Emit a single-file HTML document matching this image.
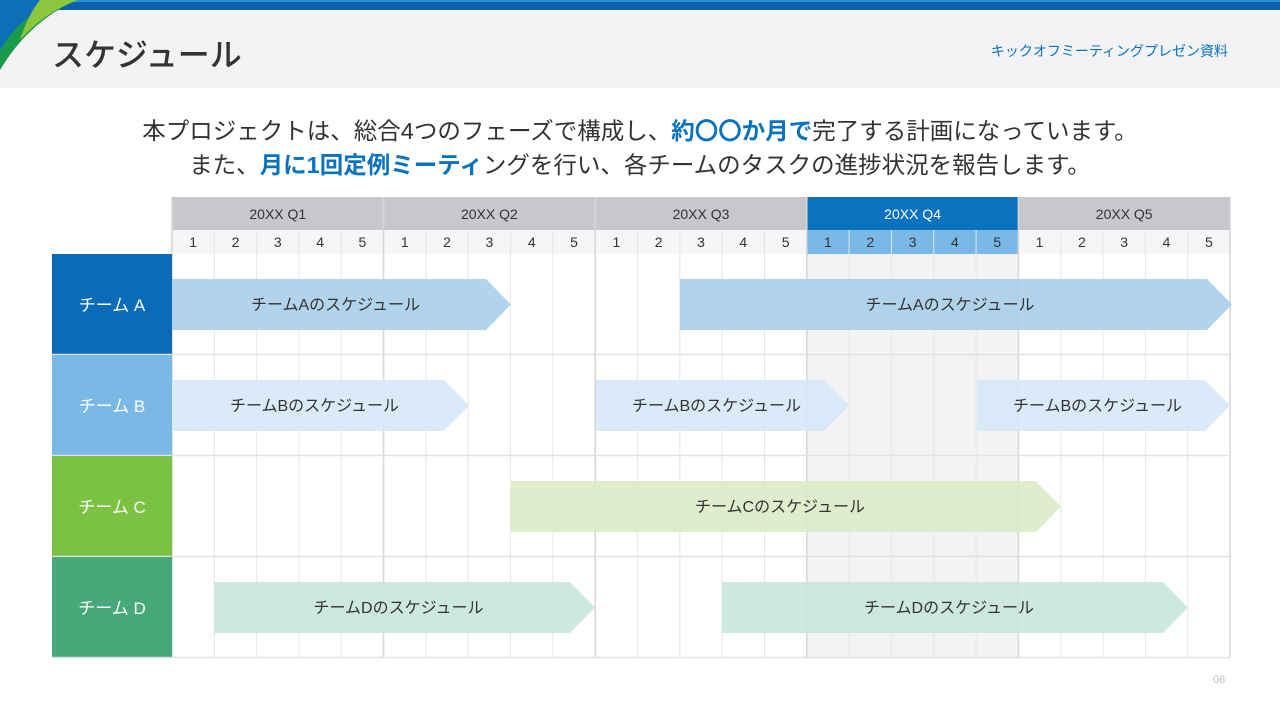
<!DOCTYPE html>
<html><head><meta charset="utf-8"><style>
body{margin:0;width:1280px;height:720px;overflow:hidden;background:#fff;font-family:"Liberation Sans","Noto Sans CJK JP",sans-serif;position:relative}
.abs{position:absolute}
.hl{color:#0a72be;font-weight:bold}
</style></head><body>
<div class="abs" style="left:0;top:0;width:1280px;height:10px;background:#0a5fae"></div>
<div class="abs" style="left:0;top:0;width:1280px;height:2px;background:#2f8fd6"></div>
<div class="abs" style="left:0;top:10px;width:1280px;height:78px;background:#f3f3f5"></div>
<svg class="abs" style="left:0;top:0" width="90" height="80">
<path d="M0 0 L78 0 Q30 20 0 70 Z" fill="#1a9a4a"/>
<path d="M0 0 L60 0 Q20 15 0 50 Z" fill="#0d6fb6"/>
<path d="M40 0 L78 0 Q45 12 20 40 Q28 15 40 0 Z" fill="#8cc63f"/>
</svg>
<div class="abs" style="left:52px;top:30px;font-size:32px;color:#333;font-weight:500">スケジュール</div>
<div class="abs" style="right:52px;top:41px;font-size:14px;color:#0a72be">キックオフミーティングプレゼン資料</div>
<div class="abs" style="left:0;width:1280px;top:114px;text-align:center;font-size:23.5px;color:#333;line-height:34px;white-space:nowrap">本プロジェクトは、総合4つのフェーズで構成し、<span class="hl">約〇〇か月で</span>完了する計画になっています。<br>また、<span class="hl">月に1回定例ミーティ</span>ングを行い、各チームのタスクの進捗状況を報告します。</div>
<svg class="abs" style="left:0;top:0" width="1280" height="720" font-family="Liberation Sans, Noto Sans CJK JP, sans-serif">
<rect x="807" y="254" width="212" height="403" fill="#f3f3f5"/>
<g id="grid"></g>
</svg>
<script>
var s='',x0=172,w=42.32;
var g=document.getElementById('grid');
for(var q=0;q<5;q++){var x=x0+q*5*w;var hi=q==3;
s+='<rect x="'+x+'" y="197" width="'+(5*w)+'" height="33" fill="'+(hi?'#0a72be':'#c8c7cc')+'"/>';
s+='<text x="'+(x+2.5*w)+'" y="219" text-anchor="middle" font-size="14" fill="'+(hi?'#fff':'#333')+'">20XX Q'+(q+1)+'</text>';
for(var m=0;m<5;m++){var cx=x+m*w;
s+='<rect x="'+cx+'" y="230" width="'+w+'" height="24" fill="'+(hi?'#7ab8e6':'#f6f6f8')+'"/>';
s+='<text x="'+(cx+w/2)+'" y="247" text-anchor="middle" font-size="14" fill="#333">'+(m+1)+'</text>';}}
for(var i=0;i<=25;i++){var x=x0+i*w;var major=i%5==0;
s+='<line x1="'+x+'" y1="'+(major?197:230)+'" x2="'+x+'" y2="657" stroke="'+(major?'#d6d6da':'#e6e6ea')+'" stroke-width="'+(major?1.5:1)+'"/>';}
var rows=[['チーム A','#0a6bb8'],['チーム B','#7ab8e6'],['チーム C','#7cc242'],['チーム D','#47a97a']];
for(var r=0;r<4;r++){var y=254+r*101;
s+='<rect x="52" y="'+y+'" width="120" height="100" fill="'+rows[r][1]+'"/>';
s+='<text x="112" y="'+(y+57)+'" text-anchor="middle" font-size="17" fill="#fff">'+rows[r][0]+'</text>';
s+='<line x1="52" y1="'+(y+100.5)+'" x2="1230" y2="'+(y+100.5)+'" stroke="#e2e2e6" stroke-width="1.5"/>';}
function bar(a,b,r,c,t){var y=279+r*101,h=51;
s+='<path d="M'+a+' '+y+' L'+(b-25)+' '+y+' L'+b+' '+(y+h/2)+' L'+(b-25)+' '+(y+h)+' L'+a+' '+(y+h)+' Z" fill="'+c+'" opacity="0.9"/>';
s+='<text x="'+((a+b-12)/2)+'" y="'+(y+31)+'" text-anchor="middle" font-size="16" fill="#333">'+t+'</text>';}
bar(172,511,0,'#a9cfea','チームAのスケジュール');
bar(680,1232,0,'#a9cfea','チームAのスケジュール');
bar(172,469,1,'#d6e8f7','チームBのスケジュール');
bar(596,849,1,'#d6e8f7','チームBのスケジュール');
bar(977,1230,1,'#d6e8f7','チームBのスケジュール');
bar(511,1061,2,'#dcebc8','チームCのスケジュール');
bar(214,595,3,'#c8e7d9','チームDのスケジュール');
bar(722,1188,3,'#c8e7d9','チームDのスケジュール');
g.innerHTML=s;
</script>
<div class="abs" style="left:1213px;top:674px;font-size:11px;color:#c0c0c4">06</div>
</body></html>
